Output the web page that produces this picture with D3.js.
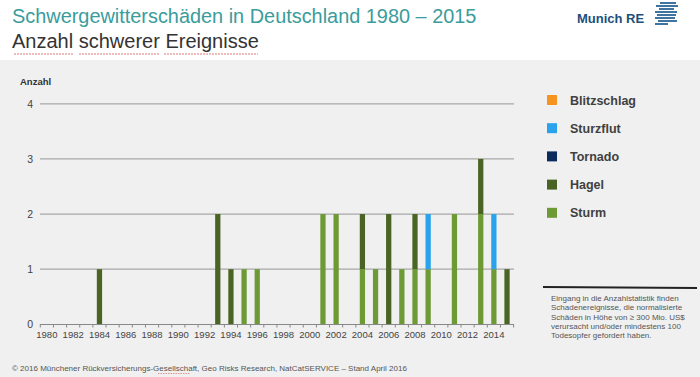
<!DOCTYPE html>
<html><head><meta charset="utf-8">
<script src="https://cdn.jsdelivr.net/npm/d3@7/dist/d3.min.js"></script>
<style>body{margin:0;background:#f0f0f0;}svg{display:block;font-family:Arial,"Liberation Sans",sans-serif;}</style>
</head><body><svg id="c" width="700" height="377"></svg>
<script>
const years = d3.range(1980, 2016);
const yearLabels = d3.range(1980, 2016, 2);
const seriesNames = ["Sturm", "Hagel", "Tornado", "Sturzflut", "Blitzschlag"];
const seriesColors = ["#6e9a36", "#4a6424", "#0c2a5c", "#2aa3ec", "#f7941d"];
const sturm     = [0,0,0,0,0,0,0,0,0,0,0,0,0,0,0,1,1,0,0,0,0,2,2,0,1,1,0,1,1,1,0,2,0,2,1,0];
const hagel     = [0,0,0,0,1,0,0,0,0,0,0,0,0,2,1,0,0,0,0,0,0,0,0,0,1,0,2,0,1,0,0,0,0,1,0,1];
const tornado   = new Array(36).fill(0);
const sturzflut = [0,0,0,0,0,0,0,0,0,0,0,0,0,0,0,0,0,0,0,0,0,0,0,0,0,0,0,0,0,1,0,0,0,0,1,0];
const blitz     = new Array(36).fill(0);
const yTicks = [0,1,2,3,4];

const svg = d3.select("#c");
svg.append("rect").attr("width",700).attr("height",377).attr("fill","#f0f0f0");
svg.append("rect").attr("width",700).attr("height",60).attr("fill","#ffffff");

// Titles
svg.append("text").attr("x",12).attr("y",23).attr("font-size",19.9).attr("fill","#3a9c9b").text("Schwergewitterschäden in Deutschland 1980 – 2015");
svg.append("text").attr("x",12).attr("y",48).attr("font-size",20).attr("fill","#333").text("Anzahl schwerer Ereignisse");
// spell-check underlines
[[14,74],[79,160],[164,258]].forEach(([a,b])=>{
  svg.append("line").attr("x1",a).attr("x2",b).attr("y1",54).attr("y2",54).attr("stroke","#e07a7a").attr("stroke-width",1).attr("stroke-dasharray","2,1");
});

// Logo
svg.append("text").attr("x",577).attr("y",23).attr("font-size",13).attr("font-weight","bold").attr("fill","#1d4f7c").text("Munich RE");
const stripes = [[660,676,3],[656,678,6],[659,674,9],[655,677,12],[657,676,15],[655,675,18],[658,677,21],[655,668,24]];
stripes.forEach(([a,b,y])=>svg.append("line").attr("x1",a).attr("x2",b).attr("y1",y).attr("y2",y).attr("stroke","#2a6496").attr("stroke-width",1.8));

// Scales
const x = d3.scaleBand().domain(years).range([40.3,513.6]).paddingInner(0.6).paddingOuter(0.3);
const y = d3.scaleLinear().domain([0,4]).range([324.3,103.8]);

// grid
svg.append("g").selectAll("line").data(yTicks.slice(1)).join("line")
  .attr("x1",40).attr("x2",514).attr("y1",d=>y(d)).attr("y2",d=>y(d))
  .attr("stroke","#a8a8a8").attr("stroke-width",1.3);

// y labels
svg.append("g").selectAll("text").data(yTicks).join("text")
  .attr("x",33).attr("y",d=>y(d)+4).attr("text-anchor","end").attr("font-size",10.5).attr("fill","#444").text(d=>d);
svg.append("text").attr("x",20).attr("y",85).attr("font-size",9.5).attr("font-weight","bold").attr("fill","#333").text("Anzahl");

// stacked bars
const rows = years.map((yr,i)=>({year:yr, Sturm:sturm[i], Hagel:hagel[i], Tornado:tornado[i], Sturzflut:sturzflut[i], Blitzschlag:blitz[i]}));
const stack = d3.stack().keys(seriesNames)(rows);
svg.append("g").selectAll("g").data(stack).join("g").attr("fill",(d,i)=>seriesColors[i])
  .selectAll("rect").data(d=>d.filter(p=>p[1]>p[0])).join("rect")
  .attr("x",d=>x(d.data.year)).attr("width",x.bandwidth())
  .attr("y",d=>y(d[1])).attr("height",d=>y(d[0])-y(d[1]));

// x axis
const step = x.step();
const ax = svg.append("g");
ax.append("line").attr("x1",40).attr("x2",514).attr("y1",324.5).attr("y2",324.5).attr("stroke","#888").attr("stroke-width",1);
ax.selectAll("line.t").data(years.concat([2016])).join("line").attr("class","t")
  .attr("x1",d=>40.3+(d-1980)*step).attr("x2",d=>40.3+(d-1980)*step)
  .attr("y1",324).attr("y2",327.5).attr("stroke","#888");
ax.selectAll("text").data(yearLabels).join("text")
  .attr("x",d=>x(d)+x.bandwidth()/2).attr("y",338).attr("text-anchor","middle")
  .attr("font-size",9.5).attr("fill","#444").text(d=>d);

// legend
const legendNames = ["Blitzschlag","Sturzflut","Tornado","Hagel","Sturm"];
const legendColors = ["#f7941d","#2aa3ec","#0c2a5c","#4a6424","#6e9a36"];
const lg = svg.append("g").selectAll("g").data(legendNames).join("g")
  .attr("transform",(d,i)=>`translate(547,${100+i*28.2})`);
lg.append("rect").attr("x",0).attr("y",-5).attr("width",10).attr("height",10).attr("fill",(d,i)=>legendColors[i]);
lg.append("text").attr("x",23).attr("y",4.5).attr("font-size",12.5).attr("font-weight","bold").attr("fill","#404040").text(d=>d);

// footnote
svg.append("line").attr("x1",543).attr("x2",697).attr("y1",287).attr("y2",288).attr("stroke","#222").attr("stroke-width",1.8);
const note = ["Eingang in die Anzahlstatistik finden","Schadenereignisse, die normalisierte","Schäden in Höhe von ≥ 300 Mio. US$","verursacht und/oder mindestens 100","Todesopfer gefordert haben."];
svg.append("g").selectAll("text").data(note).join("text")
  .attr("x",551).attr("y",(d,i)=>301+i*9.3).attr("font-size",8).attr("fill","#555").text(d=>d);

// footer
svg.append("text").attr("x",12).attr("y",371).attr("font-size",8).attr("fill","#555")
  .text("© 2016 Münchener Rückversicherungs-Gesellschaft, Geo Risks Research, NatCatSERVICE – Stand April 2016");
svg.append("line").attr("x1",158).attr("x2",190).attr("y1",373.5).attr("y2",373.5).attr("stroke","#e07a7a").attr("stroke-width",0.8).attr("stroke-dasharray","1.5,1");
</script></body></html>
